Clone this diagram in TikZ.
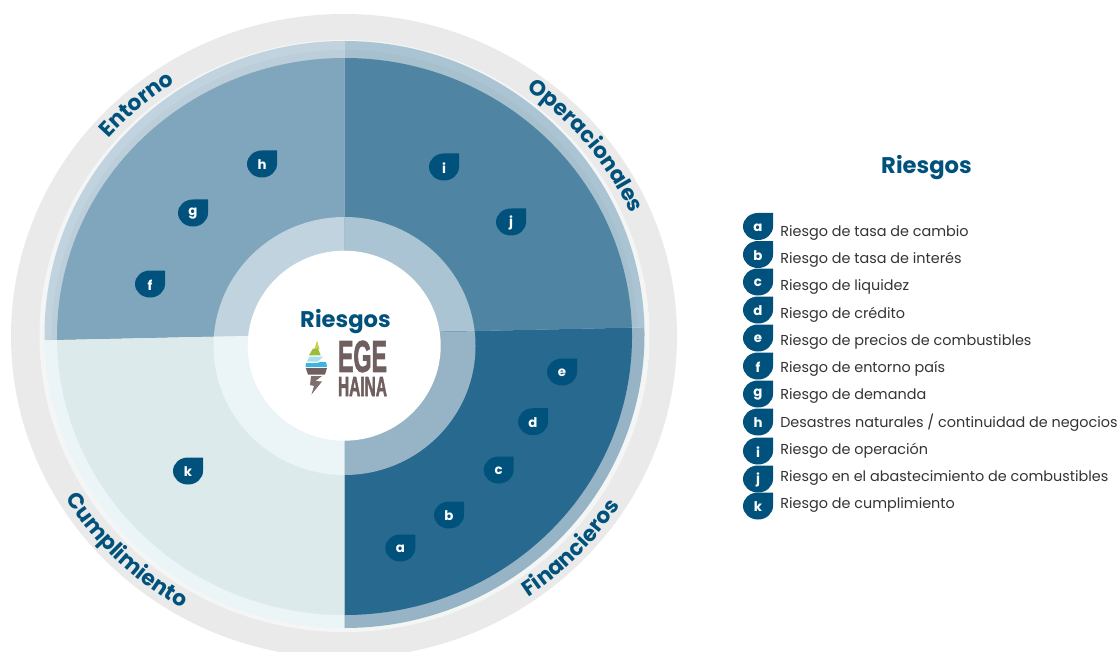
\documentclass[tikz,border=0pt]{standalone}
\usepackage{fontspec}
\usepackage{graphicx}
\setmainfont{Poppins}
\newfontfamily\logofont[BoldFeatures={FakeBold=2.5}]{Liberation Sans}
\usetikzlibrary{decorations.text}
\definecolor{navy}{HTML}{00527C}
\definecolor{grayring}{HTML}{EAEAEA}
\definecolor{whitering}{HTML}{F4F5F5}
\definecolor{trDark}{HTML}{4F84A3}
\definecolor{trRing}{HTML}{AAC4D3}
\definecolor{brDark}{HTML}{27698F}
\definecolor{brRing}{HTML}{97B4C7}
\definecolor{tlDark}{HTML}{7FA6BC}
\definecolor{tlRing}{HTML}{C0D3DF}
\definecolor{blDark}{HTML}{DDEAEB}
\definecolor{blRing}{HTML}{EBF4F6}
\definecolor{brownlogo}{HTML}{6F5F5E}
\definecolor{brownlight}{HTML}{7D706E}
\definecolor{logoyellow}{HTML}{C8D24A}
\definecolor{logogreen}{HTML}{9CBB3C}
\definecolor{logosky}{HTML}{A8DDF0}
\definecolor{logocyan}{HTML}{3FB3E0}
\tikzset{
  legendtext/.style={anchor=west,inner sep=0pt,font=\fontsize{10.8pt}{12pt}\selectfont,text=black!80},
  droplabel/.style={inner sep=0pt,font=\fontsize{10pt}{11pt}\selectfont\bfseries,text=white},
  arctext/.style={decorate,decoration={text along path,text align=center,
    text={|\fontsize{16.3pt}{18pt}\selectfont\bfseries\color{navy}|#1}}},
}
\newcommand{\quarter}[4]{%
  \begin{scope}
    \clip #1;
    \fill[#3] (344.5,334.5) ellipse [x radius=300, y radius=293.5];
    \fill[black,fill opacity=#4] (344.5,338) ellipse [x radius=293, y radius=288];
    \fill[#2] (344.5,336.5) ellipse [x radius=287.5, y radius=278.5];
    \fill[#3] (344.5,346) ellipse [x radius=131, y radius=129];
  \end{scope}}
\newcommand{\dropmark}[4]{%
  \fill[navy,shift={(#2,#3)}] (15,-13.5) -- (0,-13.5) .. controls (-8.3,-13.5) and (-15,-7.5) .. (-15,0)
     .. controls (-15,7.5) and (-8.3,13.5) .. (0,13.5) .. controls (8.3,13.5) and (15,7.5) .. (15,0) -- cycle;
  \node[droplabel] (#1) at (#2,#3+1) {#4};}
\newcommand{\ringlabel}[5]{% text, start, end, rx, ry
  \path[arctext={#1}] (344,336) ++ (#2:#4 and #5) arc[start angle=#2,end angle=#3,x radius=#4,y radius=#5];}
\begin{document}
\begin{tikzpicture}[x=0.75pt,y=-0.75pt]
\useasboundingbox (0,0) rectangle (1119,652);
\begin{scope}
  \clip (0,0) rectangle (1119,652);
  \fill[grayring] (344,336) ellipse [x radius=333, y radius=322];
\end{scope}
\fill[whitering] (344.5,336) ellipse [x radius=305, y radius=296];
\quarter{(344.3,0) -- (700,0) -- (700,326.2) -- (344.3,333.9) -- cycle}{trDark}{trRing}{0.02}
\quarter{(344.3,333.9) -- (700,326.2) -- (700,652) -- (344.3,652) -- cycle}{brDark}{brRing}{0}
\quarter{(344.3,0) -- (0,0) -- (0,341.4) -- (344.3,333.9) -- cycle}{tlDark}{tlRing}{0.02}
\quarter{(344.3,333.9) -- (0,341.4) -- (0,652) -- (344.3,652) -- cycle}{blDark}{blRing}{0}
\fill[white] (344.2,345.7) ellipse [x radius=96.5, y radius=95];

% ring labels
\ringlabel{Operacionales}{-61}{-17}{313}{303}
\ringlabel{Entorno}{-156}{-106}{312}{301}
\ringlabel{Financieros}{66}{22}{327}{316}
\ringlabel{Cumplimiento}{160.5}{108.5}{325}{314}

% center
\node[inner sep=0pt,font=\fontsize{17pt}{20pt}\selectfont\bfseries,text=navy] (centertitle) at (345.5,322) {Riesgos};
\node[inner sep=0pt,text=brownlogo] (ege) at (362.5,356.5) {\resizebox{36.75pt}{23.25pt}{\logofont\bfseries EGE}};
\node[inner sep=0pt,text=brownlogo] (haina) at (362.5,386.5) {\resizebox{36.75pt}{14.25pt}{\logofont\bfseries HAINA}};
% logo mark
\fill[logoyellow] (317,340.5) -- (314.5,349) -- (319.5,349) -- cycle;
\fill[logogreen] (313,348.5) -- (318,348.5) -- (320.7,355.3) -- (309,355.3) -- cycle;
\fill[logosky] (309.5,356.5) -- (323,356.5) -- (318,361.5) -- (307,361.5) -- cycle;
\fill[logocyan] (320,362) -- (326,362) -- (327,367) -- (305.5,367) -- (306,363) -- (317,363) -- cycle;
\fill[brownlogo] (305.8,368) -- (327,368) -- (325,374.5) -- (308,374.5) -- cycle;
\fill[brownlight] (311,376) -- (322,376) -- (315.5,381) -- (322,381.5) -- (311.5,394.5) -- (314,386) -- (310,385) -- cycle;

% drops on the wheel
\dropmark{wa}{400.3}{548}{a}
\dropmark{wb}{449}{515}{b}
\dropmark{wc}{498.7}{470}{c}
\dropmark{wd}{533}{421.7}{d}
\dropmark{we}{562}{372}{e}
\dropmark{wf}{150}{284}{f}
\dropmark{wg}{193}{213}{g}
\dropmark{wh}{262}{164}{h}
\dropmark{wi}{444}{167}{i}
\dropmark{wj}{511}{222}{j}
\dropmark{wk}{188}{471}{k}

% legend
\node[inner sep=0pt,font=\fontsize{17pt}{20pt}\selectfont\bfseries,text=navy] (legendtitle) at (926.5,168) {Riesgos};
\dropmark{la}{758}{226.5}{a}
\dropmark{lb}{758}{254.5}{b}
\dropmark{lc}{758}{282}{c}
\dropmark{ld}{758}{310}{d}
\dropmark{le}{758}{338}{e}
\dropmark{lf}{758}{366}{f}
\dropmark{lg}{758}{394}{g}
\dropmark{lh}{758}{422}{h}
\dropmark{li}{758}{451}{i}
\dropmark{lj}{758}{479}{j}
\dropmark{lk}{758}{506}{k}
\node[legendtext] (ta) at (780,233) {Riesgo de tasa de cambio};
\node[legendtext] (tb) at (780,260) {Riesgo de tasa de interés};
\node[legendtext] (tc) at (780,287) {Riesgo de liquidez};
\node[legendtext] (td) at (780,315) {Riesgo de crédito};
\node[legendtext] (te) at (780,342) {Riesgo de precios de combustibles};
\node[legendtext] (tf) at (780,369) {Riesgo de entorno país};
\node[legendtext] (tg) at (780,396) {Riesgo de demanda};
\node[legendtext] (th) at (780,423) {Desastres naturales / continuidad de negocios};
\node[legendtext] (ti) at (780,451) {Riesgo de operación};
\node[legendtext] (tj) at (780,478) {Riesgo en el abastecimiento de combustibles};
\node[legendtext] (tk) at (780,505) {Riesgo de cumplimiento};
\end{tikzpicture}
\end{document}
